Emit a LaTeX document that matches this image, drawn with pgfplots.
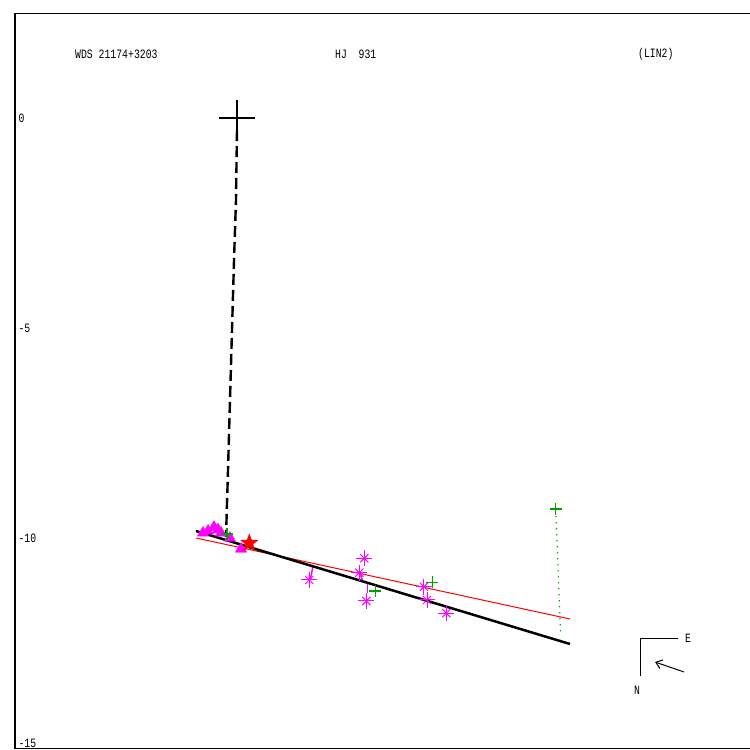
\documentclass[border=0pt]{standalone}
\usepackage{fontspec}
\usepackage{graphicx}
\usepackage{pgfplots}
\pgfplotsset{compat=1.18}
\usetikzlibrary{arrows.meta}
\newfontfamily\pixfont{Liberation Mono}
\newcommand\px[1]{\scalebox{1}[1.3]{\pixfont\fontsize{9.8pt}{10pt}\selectfont #1}}
\definecolor{mag}{RGB}{255,0,255}
\definecolor{grn}{RGB}{0,160,0}
\definecolor{rd}{RGB}{255,0,0}
\pgfdeclareplotmark{fstar}{%
  \pgfpathmoveto{\pgfpointpolar{90}{\pgfplotmarksize}}%
  \pgfpathlineto{\pgfpointpolar{126}{0.42\pgfplotmarksize}}%
  \pgfpathlineto{\pgfpointpolar{162}{\pgfplotmarksize}}%
  \pgfpathlineto{\pgfpointpolar{198}{0.42\pgfplotmarksize}}%
  \pgfpathlineto{\pgfpointpolar{234}{\pgfplotmarksize}}%
  \pgfpathlineto{\pgfpointpolar{270}{0.42\pgfplotmarksize}}%
  \pgfpathlineto{\pgfpointpolar{306}{\pgfplotmarksize}}%
  \pgfpathlineto{\pgfpointpolar{342}{0.42\pgfplotmarksize}}%
  \pgfpathlineto{\pgfpointpolar{18}{\pgfplotmarksize}}%
  \pgfpathlineto{\pgfpointpolar{54}{0.42\pgfplotmarksize}}%
  \pgfpathclose
  \pgfusepathqfillstroke}
\begin{document}
\begin{tikzpicture}
\useasboundingbox (0,0) rectangle (750pt,750pt);
\clip (0,0) rectangle (750pt,750pt);
\begin{axis}[
  at={(15pt,2pt)}, anchor=south west,
  scale only axis, width=737pt, height=734pt,
  xmin=-5.2857, xmax=12.2619, ymin=-15, ymax=2.4762,
  xtick=\empty,
  ytick={0,-5,-10,-14.9},
  yticklabels={\px{0},\px{-5},\px{-10},\px{-15}},
  yticklabel style={anchor=west},
  tick style={draw=none},
  axis line style={line width=1pt},
  clip=false,
]
% residual segments
\addplot[mag, line width=1.5pt] coordinates {(1.750,-10.976) (1.810,-10.667)};
\addplot[mag, line width=1.5pt] coordinates {(3.102,-11.31) (3.102,-11.10)};
\addplot[mag, line width=1.5pt] coordinates {(2.920,-10.83) (2.985,-11.00)};
% triangles
\addplot[only marks, mark=triangle*, mark size=6.5pt, mag, mark options={fill=mag}] coordinates {
(-0.810,-9.881) (-0.690,-9.833) (-0.548,-9.740) (-0.452,-9.800) (-0.381,-9.880) (-0.167,-10.0) (0.095,-10.262)};
% asterisks
\addplot[only marks, mark=+, mark size=8pt, mag, mark options={line width=1pt}] coordinates {
(1.721,-11.0) (3.031,-10.483) (2.912,-10.826) (3.079,-11.5) (4.452,-11.160) (4.524,-11.476) (4.983,-11.79)};
\addplot[only marks, mark=x, mark size=5.8pt, mag, mark options={line width=1pt}] coordinates {
(1.721,-11.0) (3.031,-10.483) (2.912,-10.826) (3.079,-11.5) (4.452,-11.160) (4.524,-11.476) (4.983,-11.79)};
% green crosses
\addplot[only marks, mark=+, mark size=6pt, grn, mark options={line width=1.3pt}] coordinates {
(7.588,-9.31) (3.293,-11.262) (4.650,-11.055) (-0.238,-9.905)};
\addplot[grn, line width=1.2pt, dash pattern=on 1.2pt off 4.8pt] coordinates {(7.595,-9.48) (7.707,-12.33)};
% lines
\addplot[rd, line width=1pt] coordinates {(-0.976,-10.0) (7.929,-11.929)};
\addplot[black, line width=2.5pt] coordinates {(-0.976,-9.833) (7.929,-12.524)};
\addplot[black, line width=2.4pt, dash pattern=on 11pt off 5pt] coordinates {
(0,-0.286) (-0.024,-1.952) (-0.071,-3.381) (-0.119,-5.048) (-0.167,-6.714) (-0.214,-8.381) (-0.262,-9.976)};
% star
\addplot[only marks, mark=fstar, mark size=9pt, rd, mark options={fill=rd}] coordinates {(0.293,-10.119)};
% big cross
\addplot[only marks, mark=+, mark size=18pt, black, mark options={line width=2pt}] coordinates {(0,0)};
\end{axis}
\node[anchor=west, inner sep=0] at (75pt,696pt) {\px{WDS 21174+3203}};
\node[anchor=west, inner sep=0] at (335pt,696pt) {\px{HJ\ \ 931}};
\node[anchor=west, inner sep=0] at (638pt,696pt) {\px{(LIN2)}};
\draw[line width=1pt] (678pt,111pt) -- (640pt,111pt) -- (640pt,74pt);
\node[anchor=west, inner sep=0] at (685pt,112pt) {\px{E}};
\node[inner sep=0] at (637pt,60pt) {\px{N}};
\draw[line width=1pt, -{Straight Barb[length=6pt,width=9pt]}] (684pt,78pt) -- (655pt,88pt);
\end{tikzpicture}
\end{document}
